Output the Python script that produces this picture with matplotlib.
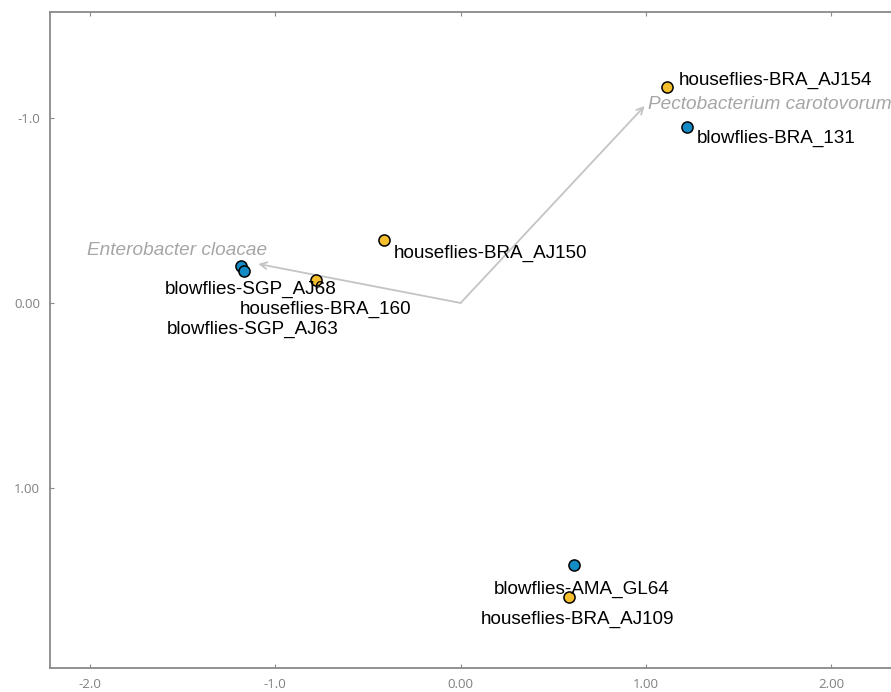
import matplotlib
matplotlib.use("Agg")
import matplotlib.pyplot as plt

# sample scores (ordination axes 1 and 2)
samples = ["houseflies-BRA_AJ154", "blowflies-BRA_131", "houseflies-BRA_AJ150",
           "blowflies-SGP_AJ68", "blowflies-SGP_AJ63", "houseflies-BRA_160",
           "blowflies-AMA_GL64", "houseflies-BRA_AJ109"]
axis1 = [1.114, 1.222, -0.411, -1.184, -1.168, -0.778, 0.611, 0.584]
axis2 = [-1.168, -0.951, -0.341, -0.200, -0.173, -0.124, 1.416, 1.589]
group = ["houseflies", "blowflies", "houseflies", "blowflies",
         "blowflies", "houseflies", "blowflies", "houseflies"]

# species loadings (arrows)
species = ["Enterobacter cloacae", "Pectobacterium carotovorum"]
sp_axis1 = [-1.092, 0.993]
sp_axis2 = [-0.211, -1.065]

xticks = [-2.0, -1.0, 0.0, 1.0, 2.0]
xticklabels = ["-2.0", "-1.0", "0.00", "1.00", "2.00"]
yticks = [-1.0, 0.0, 1.0]
yticklabels = ["-1.0", "0.00", "1.00"]

colors = {"houseflies": "#f4be2c", "blowflies": "#138cc6"}

# label offsets in points (dx, dy, ha)
label_offsets = {
    "houseflies-BRA_AJ154": (8.5, 5, "left"),
    "blowflies-BRA_131": (7, -8, "left"),
    "houseflies-BRA_AJ150": (6.5, -9.5, "left"),
    "blowflies-SGP_AJ68": (6.5, -17, "center"),
    "blowflies-SGP_AJ63": (6, -42, "center"),
    "houseflies-BRA_160": (6.5, -21.5, "center"),
    "blowflies-AMA_GL64": (6, -17.5, "center"),
    "houseflies-BRA_AJ109": (6.5, -16.5, "center"),
}

fig = plt.figure(figsize=(8.91, 6.92), dpi=100)
ax = fig.add_axes([0.0561, 0.0347, 0.96, 0.948])
ax.set_xlim(-2.216, 2.40)
ax.set_ylim(1.973, -1.573)

for spine in ["left", "bottom", "top"]:
    ax.spines[spine].set_color("#8a8a8a")
    ax.spines[spine].set_linewidth(1.3)
ax.spines["right"].set_visible(False)

ax.set_xticks(xticks)
ax.set_xticklabels(xticklabels)
ax.set_yticks(yticks)
ax.set_yticklabels(yticklabels)
ax.tick_params(direction="in", length=3, width=0.8, color="#8a8a8a",
               labelcolor="#808080", labelsize=9.5, top=True, pad=7)
for lab in ax.get_xticklabels() + ax.get_yticklabels():
    lab.set_fontfamily("Open Sans")

# species arrows
for name, sx, sy in zip(species, sp_axis1, sp_axis2):
    ax.annotate("", xy=(sx, sy), xytext=(0, 0),
                arrowprops=dict(arrowstyle="->", color="#c4c4c4", lw=1.3,
                                shrinkA=0, shrinkB=0, mutation_scale=12))
ax.annotate(species[0], xy=(sp_axis1[0], sp_axis2[0]), xytext=(6.5, 9.5),
            textcoords="offset points", ha="right", va="center",
            fontsize=13.7, style="italic", color="#a6a6a6", family="Liberation Sans")
ax.annotate(species[1], xy=(sp_axis1[1], sp_axis2[1]), xytext=(2.5, 1),
            textcoords="offset points", ha="left", va="center",
            fontsize=13.7, style="italic", color="#a6a6a6", family="Liberation Sans")

# sample points
for name, x, y, g in zip(samples, axis1, axis2, group):
    ax.plot(x, y, "o", ms=8, mfc=colors[g], mec="black", mew=1.1, zorder=3)
    dx, dy, ha = label_offsets[name]
    ax.annotate(name, xy=(x, y), xytext=(dx, dy), textcoords="offset points",
                ha=ha, va="center", fontsize=13.6, color="black",
                family="Liberation Sans", zorder=4)

fig.savefig("out.png", dpi=100)
